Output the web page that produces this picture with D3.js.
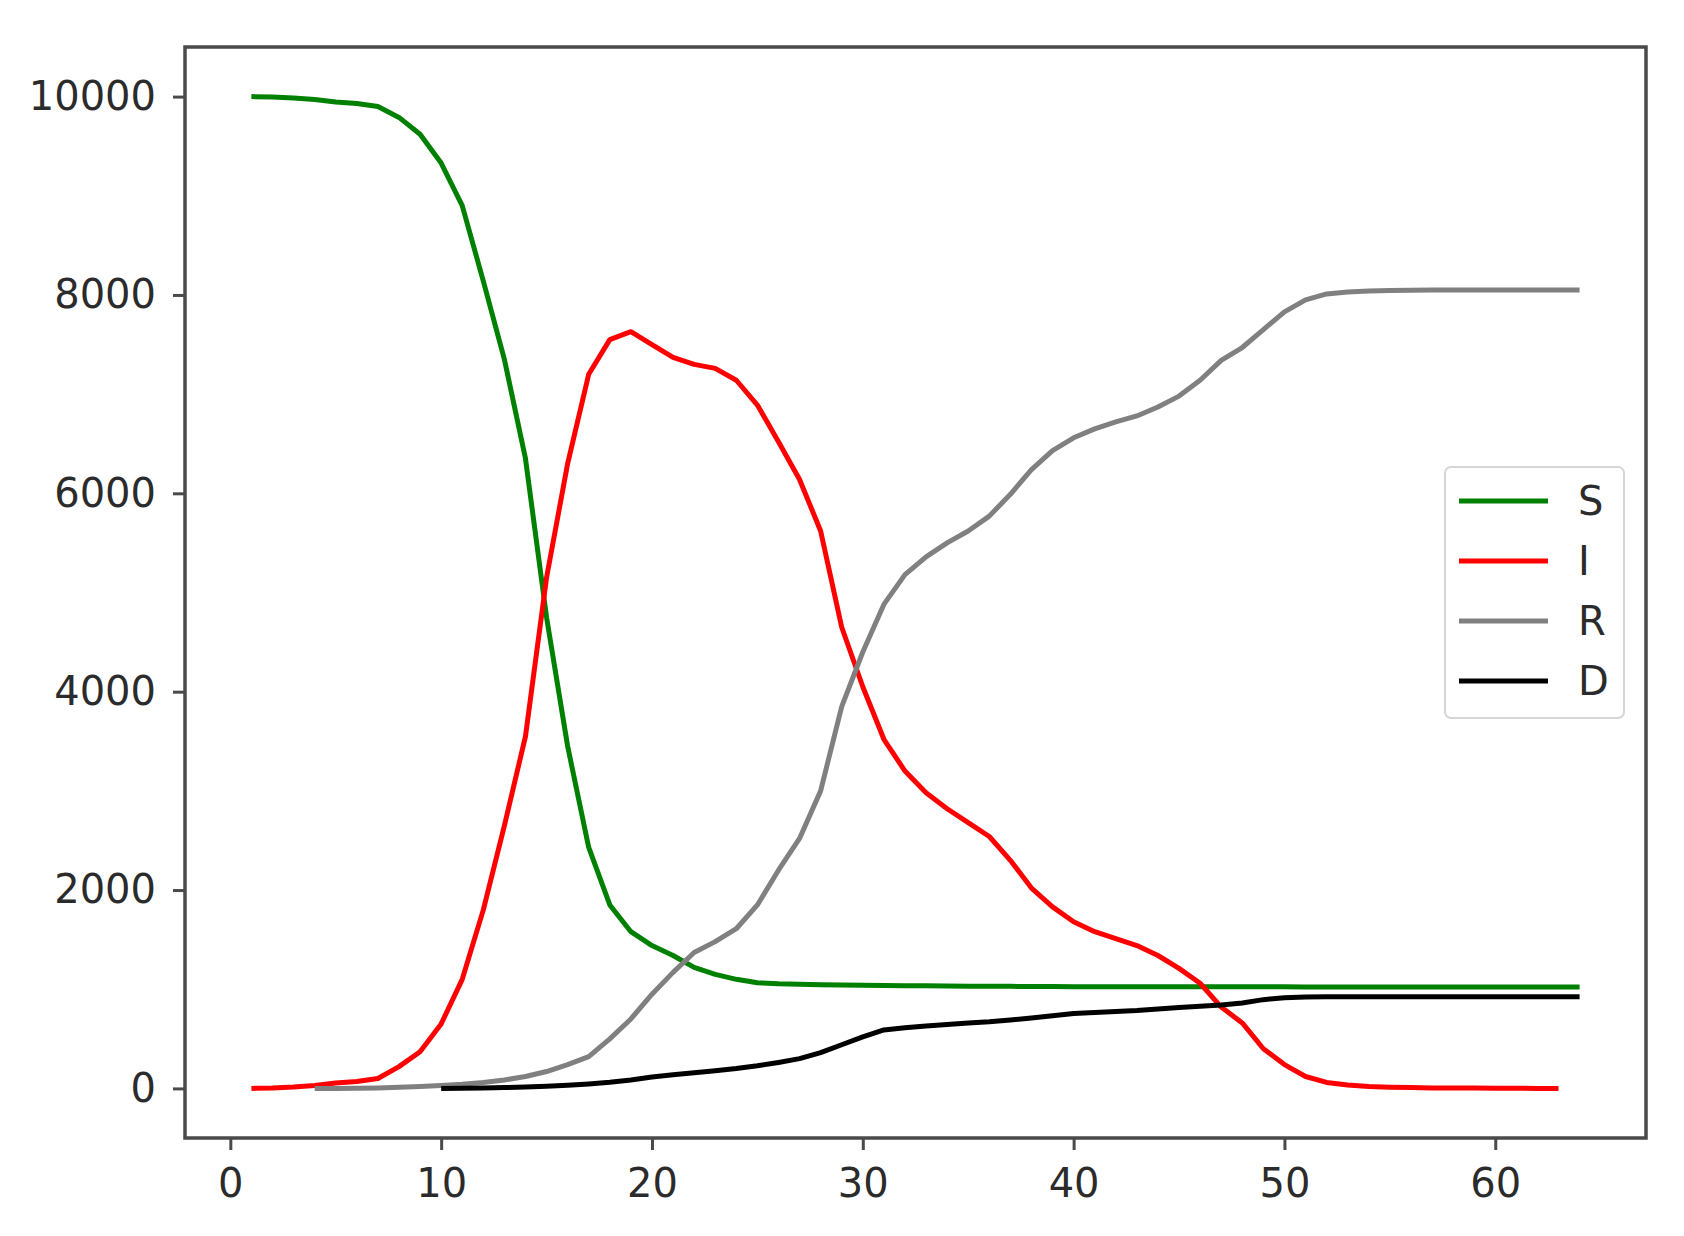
<!DOCTYPE html>
<html>
<head>
<meta charset="utf-8">
<script src="https://cdn.jsdelivr.net/npm/d3@7"></script>
<style>
  html, body { margin: 0; padding: 0; background: #ffffff; }
  svg { display: block; }
</style>
</head>
<body>
<script>
// ---- Data ----
const seriesNames = ["S", "I", "R", "D"];
const seriesColors = ["#008000", "#ff0000", "#808080", "#000000"];
const seriesStartDay = [1, 1, 4, 10];

const valuesS = [
  10000, 9995, 9985, 9970, 9945, 9930, 9900, 9790, 9620, 9330,
  8900, 8140, 7350, 6350, 4750, 3450, 2430, 1850, 1580, 1440,
  1340, 1220, 1150, 1100, 1065, 1055, 1050, 1045, 1042, 1040,
  1038, 1036, 1034, 1032, 1031, 1030, 1029, 1028, 1027, 1026,
  1025, 1025, 1025, 1025, 1025, 1024, 1024, 1024, 1024, 1024,
  1023, 1023, 1023, 1023, 1023, 1023, 1022, 1022, 1022, 1022,
  1022, 1022, 1022, 1022
];
const valuesI = [
  0, 5, 15, 30, 55, 70, 100, 220, 370, 650,
  1100, 1800, 2650, 3550, 5150, 6300, 7200, 7550, 7630, 7500,
  7370, 7300, 7260, 7140, 6890, 6520, 6140, 5620, 4650, 4050,
  3520, 3200, 2980, 2820, 2680, 2540, 2300, 2020, 1830, 1680,
  1580, 1510, 1440, 1340, 1210, 1060, 820, 660, 400, 240,
  120, 60, 35, 20, 12, 8, 5, 4, 3, 2,
  1, 0, 0
];
const valuesR = [
  0, 0, 2, 5, 12, 20, 30, 42, 60, 85,
  120, 170, 240, 320, 500, 700, 950, 1170, 1370, 1480,
  1610, 1850, 2200, 2520, 3000, 3850, 4400, 4880, 5180, 5360,
  5500, 5620, 5770, 5990, 6240, 6430, 6560, 6650, 6720, 6780,
  6870, 6980, 7140, 7340, 7470, 7650, 7830, 7950, 8010, 8030,
  8040, 8045, 8048, 8050, 8050, 8050, 8050, 8050, 8050, 8050, 8050
];
const valuesD = [
  0, 2, 5, 8, 15, 22, 32, 45, 62, 85,
  115, 138, 158, 178, 200, 228, 262, 300, 360, 440,
  520, 590, 612, 630, 645, 660, 672, 690, 710, 732,
  755, 765, 775, 785, 800, 815, 828, 842, 862, 895,
  915, 922, 925, 925, 925, 925, 925, 925, 925, 925,
  925, 925, 925, 925, 925
];
const xTickValues = [0, 10, 20, 30, 40, 50, 60];
const yTickValues = [0, 2000, 4000, 6000, 8000, 10000];

const allValues = [valuesS, valuesI, valuesR, valuesD];

// ---- Layout ----
const W = 1684, H = 1236;
const plot = { left: 185, right: 1646, top: 47, bottom: 1138 };
const FONT = "'DejaVu Sans', sans-serif";
const textColor = "#2b2b2b";
const spineColor = "#4a4a4a";

const svg = d3.select("body").append("svg")
  .attr("width", W).attr("height", H)
  .attr("viewBox", `0 0 ${W} ${H}`);

svg.append("rect").attr("width", W).attr("height", H).attr("fill", "#ffffff");

const x = d3.scaleLinear().domain([-2.15, 67.15]).range([plot.left, plot.right]);
const y = d3.scaleLinear().domain([-500, 10500]).range([plot.bottom, plot.top]);

// ---- Series lines ----
const line = d3.line()
  .x(d => x(d[0]))
  .y(d => y(d[1]))
  .curve(d3.curveLinear);

const gLines = svg.append("g");
allValues.forEach((vals, i) => {
  const pts = vals.map((v, k) => [seriesStartDay[i] + k, v]);
  gLines.append("path")
    .datum(pts)
    .attr("d", line)
    .attr("fill", "none")
    .attr("stroke", seriesColors[i])
    .attr("stroke-width", 5)
    .attr("stroke-linejoin", "round")
    .attr("stroke-linecap", "butt");
});

// ---- Axes ----
const xAxis = d3.axisBottom(x).tickValues(xTickValues).tickSize(12).tickPadding(19)
  .tickFormat(d3.format("d"));
const yAxis = d3.axisLeft(y).tickValues(yTickValues).tickSize(12).tickPadding(17)
  .tickFormat(d3.format("d"));

const gx = svg.append("g").attr("transform", `translate(0,${plot.bottom})`).call(xAxis);
const gy = svg.append("g").attr("transform", `translate(${plot.left},0)`).call(yAxis);

[gx, gy].forEach(g => {
  g.select(".domain").remove();
  g.selectAll(".tick line").attr("stroke", spineColor).attr("stroke-width", 3);
  g.selectAll(".tick text")
    .attr("fill", textColor)
    .style("font-family", FONT)
    .style("font-size", "40px");
});

// ---- Frame (spines) ----
svg.append("rect")
  .attr("x", plot.left).attr("y", plot.top)
  .attr("width", plot.right - plot.left)
  .attr("height", plot.bottom - plot.top)
  .attr("fill", "none")
  .attr("stroke", spineColor)
  .attr("stroke-width", 3.5);

// ---- Legend ----
const legend = { left: 1445, top: 467, width: 179, height: 251 };
const gLeg = svg.append("g");
gLeg.append("rect")
  .attr("x", legend.left).attr("y", legend.top)
  .attr("width", legend.width).attr("height", legend.height)
  .attr("rx", 6).attr("ry", 6)
  .attr("fill", "#ffffff").attr("fill-opacity", 0.85)
  .attr("stroke", "#d6d6d6").attr("stroke-width", 2);

const legY = d3.scalePoint().domain(seriesNames).range([501, 681]);
seriesNames.forEach((name, i) => {
  const yy = legY(name);
  gLeg.append("line")
    .attr("x1", 1459).attr("x2", 1548)
    .attr("y1", yy).attr("y2", yy)
    .attr("stroke", seriesColors[i])
    .attr("stroke-width", 5);
  gLeg.append("text")
    .attr("x", 1578).attr("y", yy)
    .attr("dy", "0.36em")
    .attr("fill", textColor)
    .style("font-family", FONT)
    .style("font-size", "40px")
    .text(name);
});
</script>
</body>
</html>
